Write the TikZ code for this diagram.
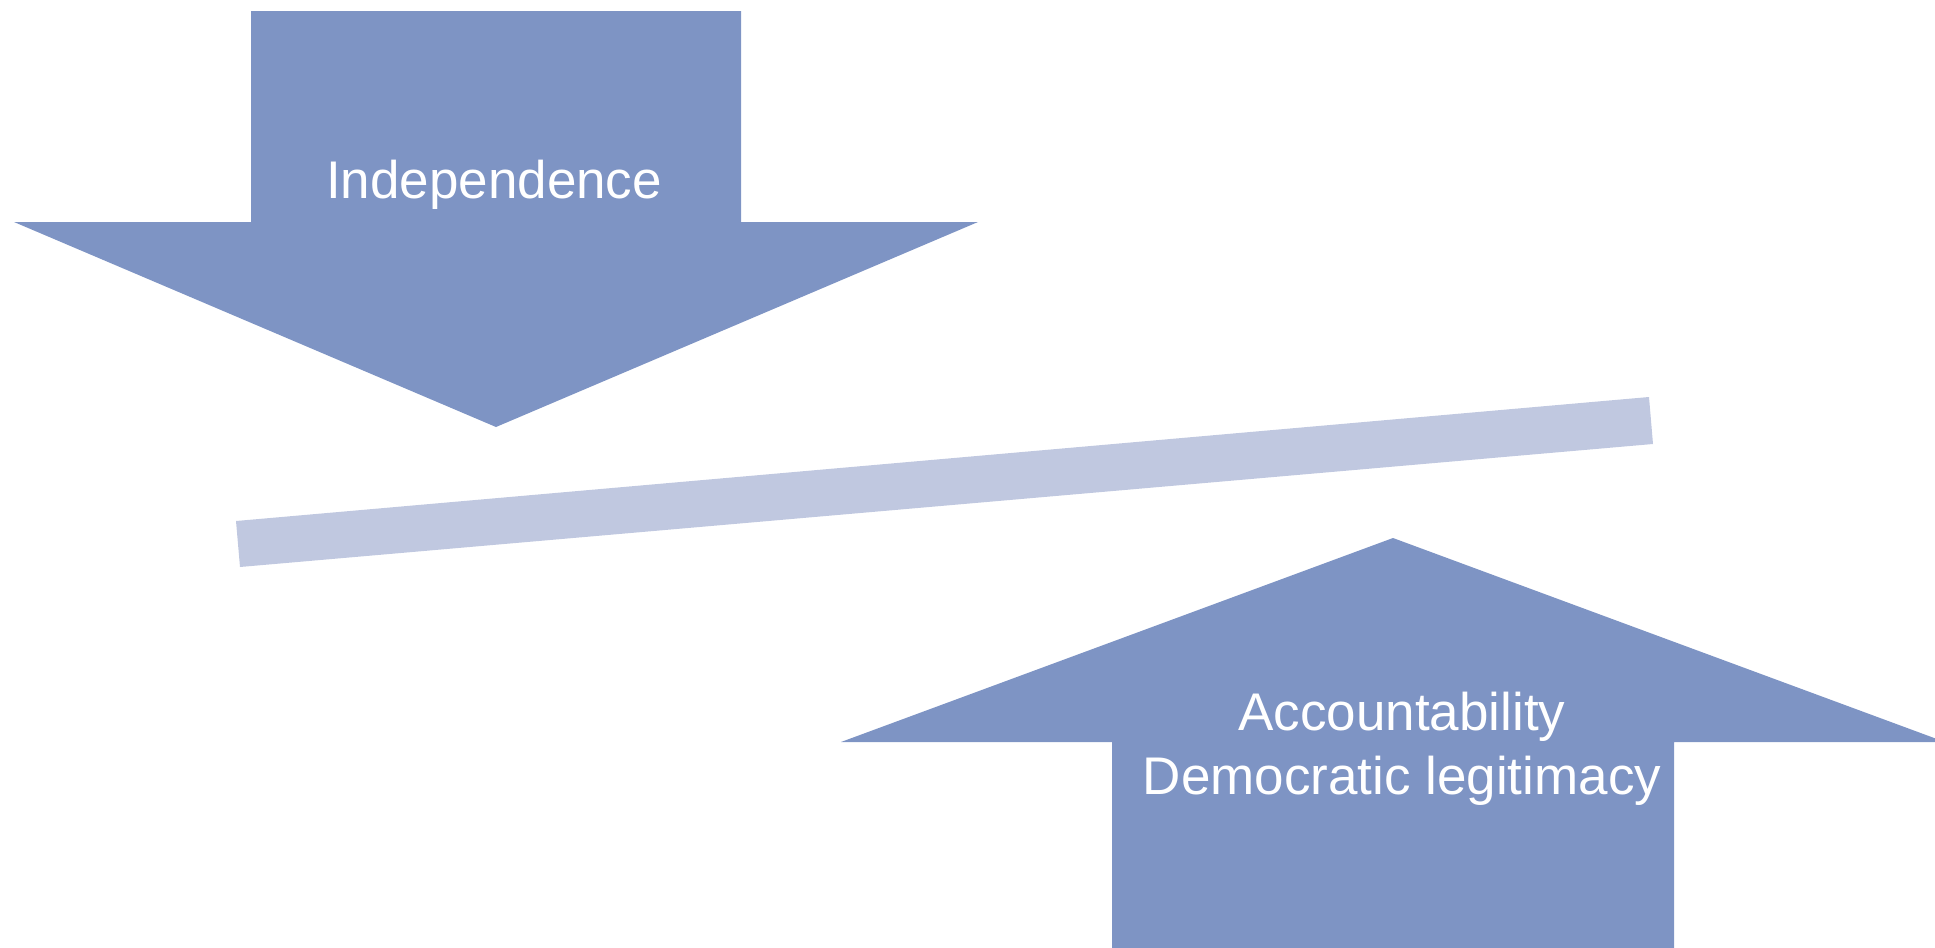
\documentclass[tikz,border=0pt]{standalone}
\usepackage{fontspec}
\setmainfont{Liberation Sans}
\definecolor{arrowblue}{RGB}{126,148,196}
\definecolor{barblue}{RGB}{192,200,224}
\begin{document}
\begin{tikzpicture}[x=0.5pt,y=-0.5pt,
  arrowshape/.style={fill=arrowblue,draw=none},
  barshape/.style={fill=barblue,draw=none},
  lbl/.style={text=white,font=\fontsize{26.5pt}{32pt}\selectfont,inner sep=0pt,align=center,anchor=base}]
\useasboundingbox (0,0) rectangle (1935,948);
% top arrow (pointing down)
\path[arrowshape] (251,11) -- (741,11) -- (741,222) -- (978,222) -- (496,427) -- (14,222) -- (251,222) -- cycle;
% tilted bar
\path[barshape] (236,521) -- (1649,397) -- (1653,444) -- (240,567) -- cycle;
% bottom arrow (pointing up)
\path[arrowshape] (1112,948) -- (1112,742) -- (841,742) -- (1393,538) -- (1945,742) -- (1674,742) -- (1674,948) -- cycle;
% labels
\node[lbl] (indep) at (494,198) {Independence};
\node[lbl] (acc) at (1402,730) {Accountability};
\node[lbl] (dem) at (1402,794) {Democratic legitimacy};
\end{tikzpicture}
\end{document}
